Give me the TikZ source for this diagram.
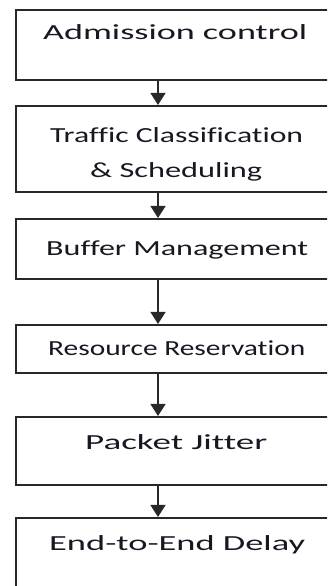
\documentclass[tikz,border=0pt]{standalone}
\usepackage{fontspec}
\setmainfont{Carlito}[Ligatures=NoCommon]
\usetikzlibrary{arrows.meta}
\definecolor{edge}{RGB}{40,40,40}
\definecolor{ink}{RGB}{24,24,34}
\newcommand{\wlabel}[2]{\resizebox{#1}{\height}{#2}}
\tikzset{
  stage/.style={draw=edge, line width=1.5pt, rectangle, inner sep=0pt, fill=white},
  caption/.style={inner sep=0pt, anchor=base west, text=ink, font=\fontsize{21.5}{25}\selectfont},
  flow/.style={draw=edge, line width=1.5pt, -{Triangle[width=15pt,length=12pt]}, shorten >=0.3pt}
}
\begin{document}
\begin{tikzpicture}[x=1pt,y=-1pt]
  \useasboundingbox (0,0) rectangle (327,586);
  \clip (0,0) rectangle (327,586);
  \fill[white] (0,0) rectangle (327,586);

  % stage boxes (the right and bottom edges run past the frame)
  \node[stage, minimum width=324pt, minimum height=70pt]  (b1) at (178,45)  {};
  \node[stage, minimum width=324pt, minimum height=86pt]  (b2) at (178,149) {};
  \node[stage, minimum width=324pt, minimum height=60pt]  (b3) at (178,249) {};
  \node[stage, minimum width=324pt, minimum height=48pt]  (b4) at (178,349) {};
  \node[stage, minimum width=324pt, minimum height=68pt]  (b5) at (178,451) {};
  \node[stage, minimum width=324pt, minimum height=102pt] (b6) at (178,569) {};

  % labels
  \node[caption] (t1)  at (43,40)  {\wlabel{264pt}{Admission control}};
  \node[caption] (t2a) at (50,142) {\wlabel{253pt}{Traffic Classification}};
  \node[caption] (t2b) at (90,177) {\wlabel{172pt}{\& Scheduling}};
  \node[caption] (t3)  at (46,255) {\wlabel{262pt}{Buffer Management}};
  \node[caption] (t4)  at (48,355) {\wlabel{257pt}{Resource Reservation}};
  \node[caption] (t5)  at (85,449) {\wlabel{182pt}{Packet Jitter}};
  \node[caption] (t6)  at (49,550) {\wlabel{256pt}{End-to-End Delay}};

  % connectors run down a common vertical line
  \coordinate (ax) at (158,0);
  \draw[flow] (b1.south -| ax) -- (b2.north -| ax);
  \draw[flow] (b2.south -| ax) -- (b3.north -| ax);
  \draw[flow] (b3.south -| ax) -- (b4.north -| ax);
  \draw[flow] (b4.south -| ax) -- (b5.north -| ax);
  \draw[flow] (b5.south -| ax) -- (b6.north -| ax);
\end{tikzpicture}
\end{document}
